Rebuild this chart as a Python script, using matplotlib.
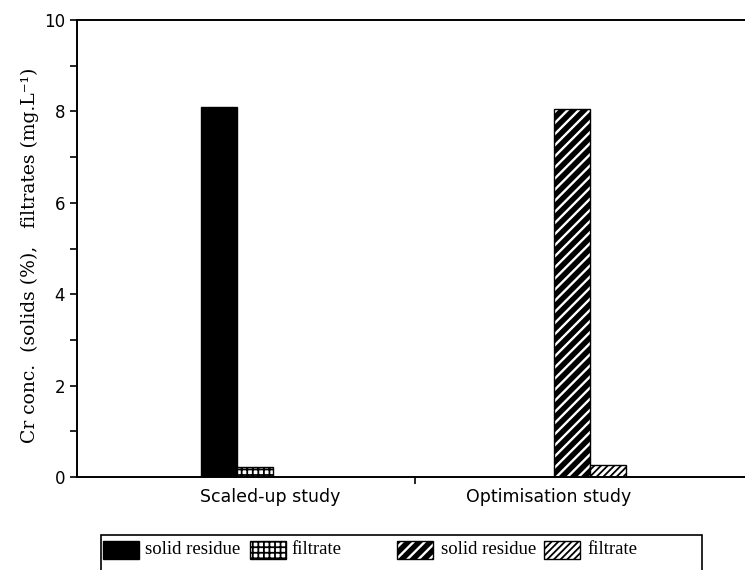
import numpy as np
import matplotlib
matplotlib.use("Agg")
import matplotlib.pyplot as plt
from matplotlib.patches import Rectangle

# data
studies = ["Scaled-up study", "Optimisation study"]
solid_residue = [8.10, 8.05]
filtrate = [0.22, 0.27]
legend_labels = ["solid residue", "filtrate", "solid residue", "filtrate"]

W, H = 745, 570

fig = plt.figure(figsize=(W / 100, H / 100), dpi=100)
ax = fig.add_axes([77 / W, 1 - 477 / H, 1 - 77 / W, (477 - 20) / H])

x = np.arange(len(studies))
w = 0.102

plt.rcParams["hatch.linewidth"] = 1.3

# scaled-up: solid black + grid hatch filtrate
ax.bar(x[0] - w / 2, solid_residue[0], w, color="black", edgecolor="black", linewidth=1)
ax.bar(x[0] + w / 2, filtrate[0], w, color="white", edgecolor="black", hatch="+++", linewidth=1)

# optimisation: black with white stripes + light diagonal filtrate
with plt.rc_context({"hatch.linewidth": 1.7}):
    ax.bar(x[1] - w / 2, solid_residue[1], w, color="black", edgecolor="white", hatch="///", linewidth=0)
ax.bar(x[1] - w / 2, solid_residue[1], w, fill=False, edgecolor="black", linewidth=1)
ax.bar(x[1] + w / 2, filtrate[1], w, color="white", edgecolor="black", hatch="/////", linewidth=1)

ax.set_xlim(-0.453, 1.439)
ax.set_ylim(0, 10)

ax.spines["right"].set_visible(False)
for s in ["left", "bottom", "top"]:
    ax.spines[s].set_linewidth(1.4)

ax.set_yticks(np.arange(0, 11, 2))
ax.set_yticks(np.arange(0, 11, 1), minor=True)
ax.tick_params(axis="y", which="both", direction="out", length=5, width=1.2, labelsize=12)

# category labels sit right of the bar pairs in the original
label_pos = [x[0] + 0.095, x[1] - 0.116]
ax.set_xticks(label_pos)
ax.set_xticklabels(studies, fontsize=12.5)
ax.tick_params(axis="x", which="major", length=0, pad=8)
ax.set_xticks([0.504], minor=True)
ax.tick_params(axis="x", which="minor", direction="out", length=5, width=1.2)

fig.text(30 / W, 1 - 255 / H, "Cr conc.  (solids (%),   filtrates (mg.L\u207b\u00b9)",
         family="DejaVu Serif", fontsize=13.5, rotation=90, ha="center", va="center")

# legend box drawn by hand, the original has uneven spacing
def fx(px):
    return px / W

def fy(py):
    return 1 - py / H

fig.add_artist(Rectangle((fx(101), fy(580)), fx(702) - fx(101), fy(535) - fy(580),
                         transform=fig.transFigure, fill=False, edgecolor="black",
                         linewidth=1.2, clip_on=False))

handle_x = [103, 250, 397, 544]
text_x = [145, 291, 441, 587]
styles = [
    dict(facecolor="black", edgecolor="black"),
    dict(facecolor="white", edgecolor="black", hatch="+++"),
    None,
    dict(facecolor="white", edgecolor="black", hatch="/////"),
]
for hx, tx, lab, st in zip(handle_x, text_x, legend_labels, styles):
    xy = (fx(hx), fy(559))
    wd, ht = fx(hx + 36) - fx(hx), fy(541) - fy(559)
    if st is None:
        with plt.rc_context({"hatch.linewidth": 1.7}):
            fig.add_artist(Rectangle(xy, wd, ht, transform=fig.transFigure,
                                     facecolor="black", edgecolor="white", hatch="///", linewidth=0))
        fig.add_artist(Rectangle(xy, wd, ht, transform=fig.transFigure,
                                 fill=False, edgecolor="black", linewidth=1))
    else:
        fig.add_artist(Rectangle(xy, wd, ht, transform=fig.transFigure, linewidth=1, **st))
    fig.text(fx(tx), fy(550), lab, family="Liberation Serif", fontsize=13.5,
             ha="left", va="center")

fig.savefig("out.png", dpi=100)
